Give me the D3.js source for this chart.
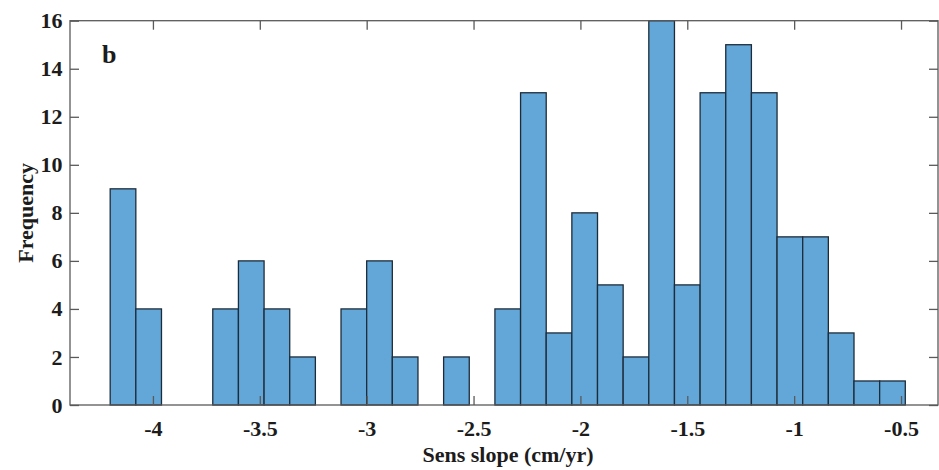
<!DOCTYPE html>
<html>
<head>
<meta charset="utf-8">
<script src="https://cdn.jsdelivr.net/npm/d3@7"></script>
<style>
  html, body { margin: 0; padding: 0; background: #fff; }
  svg { display: block; }
  text { font-family: "Liberation Serif", "Times New Roman", serif; font-weight: bold; fill: #1c1c1c; }
</style>
</head>
<body>
<svg id="chart" width="939" height="470"></svg>
<script>
// Histogram of Sen's slope estimates: 31 equal-width bins starting at -4.2
const binStart = -4.2;
const binWidth = 0.12;
const counts = [9, 4, 0, 0, 4, 6, 4, 2, 0, 4, 6, 2, 0, 2, 0, 4,
                13, 3, 8, 5, 2, 16, 5, 13, 15, 13, 7, 7, 3, 1, 1];
const xTicks = [-4, -3.5, -3, -2.5, -2, -1.5, -1, -0.5];
const yTicks = [0, 2, 4, 6, 8, 10, 12, 14, 16];
const xDomain = [-4.388, -0.327];
const yDomain = [0, 16];

const bins = counts.map((c, i) => ({
  x0: binStart + i * binWidth,
  x1: binStart + (i + 1) * binWidth,
  count: c
}));

const svg = d3.select("#chart");
const plotLeft = 70, plotRight = 938, plotTop = 20.7, plotBottom = 405;
const fontSize = "22px";

const x = d3.scaleLinear().domain(xDomain).range([plotLeft, plotRight]);
const y = d3.scaleLinear().domain(yDomain).range([plotBottom, plotTop]);

// bars
svg.append("g")
  .selectAll("rect")
  .data(bins.filter(b => b.count > 0))
  .join("rect")
  .attr("x", d => x(d.x0))
  .attr("y", d => y(d.count))
  .attr("width", d => x(d.x1) - x(d.x0))
  .attr("height", d => y(0) - y(d.count))
  .attr("fill", "#62a7d8")
  .attr("stroke", "#1e2c3a")
  .attr("stroke-width", 1.3);

const axisColor = "#5a5a5a";
const tickLen = 9;
const fmt = d => String(d);

function styleAxis(g, showLabels) {
  g.select(".domain").remove();
  g.selectAll(".tick line").attr("stroke", axisColor).attr("stroke-width", 1.3);
  g.selectAll(".tick text")
    .style("font-size", fontSize)
    .attr("fill", "#1c1c1c")
    .attr("opacity", showLabels ? 1 : 0);
}

// bottom axis (ticks point inward)
svg.append("g")
  .attr("transform", `translate(0,${plotBottom})`)
  .call(d3.axisBottom(x).tickValues(xTicks).tickSizeInner(-tickLen).tickSizeOuter(0).tickPadding(15).tickFormat(fmt))
  .call(g => styleAxis(g, true));

// top axis mirror ticks
svg.append("g")
  .attr("transform", `translate(0,${plotTop})`)
  .call(d3.axisTop(x).tickValues(xTicks).tickSizeInner(-tickLen).tickSizeOuter(0).tickFormat(""))
  .call(g => styleAxis(g, false));

// left axis
svg.append("g")
  .attr("transform", `translate(${plotLeft},0)`)
  .call(d3.axisLeft(y).tickValues(yTicks).tickSizeInner(-tickLen).tickSizeOuter(0).tickPadding(7.5).tickFormat(fmt))
  .call(g => styleAxis(g, true));

// right axis mirror ticks
svg.append("g")
  .attr("transform", `translate(${plotRight},0)`)
  .call(d3.axisRight(y).tickValues(yTicks).tickSizeInner(-tickLen).tickSizeOuter(0).tickFormat(""))
  .call(g => styleAxis(g, false));

// frame
svg.append("rect")
  .attr("x", plotLeft).attr("y", plotTop)
  .attr("width", plotRight - plotLeft).attr("height", plotBottom - plotTop)
  .attr("fill", "none")
  .attr("stroke", axisColor)
  .attr("stroke-width", 1.3);

// axis titles
svg.append("text")
  .attr("x", (plotLeft + plotRight) / 2 + 4)
  .attr("y", 462)
  .attr("text-anchor", "middle")
  .style("font-size", fontSize)
  .text("Sens slope (cm/yr)");

svg.append("text")
  .attr("transform", `translate(33,${(plotTop + plotBottom) / 2}) rotate(-90)`)
  .attr("text-anchor", "middle")
  .style("font-size", fontSize)
  .text("Frequency");

// panel letter
svg.append("text")
  .attr("x", 102)
  .attr("y", 63)
  .style("font-size", "26px")
  .text("b");
</script>
</body>
</html>
